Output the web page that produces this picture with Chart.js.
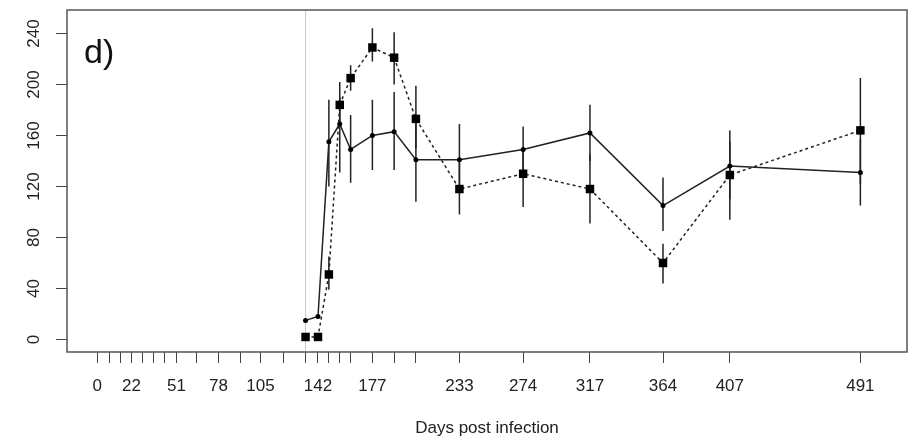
<!DOCTYPE html>
<html>
<head>
<meta charset="utf-8">
<script src="https://cdn.jsdelivr.net/npm/chart.js@4/dist/chart.umd.min.js"></script>
<style>
  body { margin: 0; background: #fff; }
  #wrap { width: 913px; height: 443px; }
</style>
</head>
<body>
<div id="wrap"><canvas id="chart" width="913" height="443"></canvas></div>
<script>
// sampling days that carry data
const DAYS = [134, 142, 149, 156, 163, 177, 191, 205, 233, 274, 317, 364, 407, 491];
// solid line series (small dots)
const SOLID = [15, 18, 155, 169, 149, 160, 163, 141, 141, 149, 162, 105, 136, 131];
const SOLID_LO = [null, null, 120, 131, 123, 133, 133, 108, 115, 130, 140, 85, 110, 105];
const SOLID_HI = [null, null, 188, 190, 176, 188, 194, 172, 169, 167, 184, 127, 164, 157];
// dashed line series (big squares)
const DASHED = [2, 2, 51, 184, 205, 229, 221, 173, 118, 130, 118, 60, 129, 164];
const DASHED_LO = [null, null, 39, 170, 195, 218, 200, 150, 98, 104, 91, 44, 94, 122];
const DASHED_HI = [null, null, 65, 202, 215, 244, 241, 199, 140, 150, 145, 75, 155, 205];

// axis ticks
const TICK_DAYS = [0, 8, 15, 22, 29, 36, 43, 51, 64, 78, 92, 105, 120, 134, 142, 149, 156, 163, 177, 191, 205, 233, 274, 317, 364, 407, 491];
const LABELED_DAYS = [0, 22, 51, 78, 105, 142, 177, 233, 274, 317, 364, 407, 491];
const Y_TICKS = [0, 20, 40, 60, 80, 100, 120, 140, 160, 180, 200, 220, 240];
const Y_LABELS = [0, 40, 80, 120, 160, 200, 240];
const INFECTION_DAY = 134;
const PANEL = 'd)';

const FONT = 'Liberation Sans, Arial, Helvetica, sans-serif';

function points(ys) {
  return DAYS.map((d, i) => ({ x: d, y: ys[i] }));
}

// error bars as separate vertical segments (null breaks the line)
function bars(lo, hi) {
  const out = [];
  DAYS.forEach((d, i) => {
    if (lo[i] == null) return;
    out.push({ x: d, y: lo[i] }, { x: d, y: hi[i] }, { x: d, y: null });
  });
  return out;
}

const framePlugin = {
  id: 'frame',
  beforeDatasetsDraw(chart) {
    const { ctx, chartArea: a, scales } = chart;
    const x = scales.x.getPixelForValue(INFECTION_DAY);
    ctx.save();
    ctx.strokeStyle = '#c8c8c8';
    ctx.lineWidth = 1;
    ctx.beginPath();
    ctx.moveTo(x, a.top);
    ctx.lineTo(x, a.bottom);
    ctx.stroke();
    ctx.restore();
  },
  afterDraw(chart) {
    const { ctx, chartArea: a } = chart;
    ctx.save();
    ctx.strokeStyle = '#555';
    ctx.lineWidth = 1.5;
    ctx.strokeRect(a.left, a.top, a.right - a.left, a.bottom - a.top);
    ctx.fillStyle = '#111';
    ctx.font = '34px ' + FONT;
    ctx.textBaseline = 'alphabetic';
    ctx.fillText(PANEL, a.left + 17, a.top + 53);
    ctx.restore();
  }
};

new Chart(document.getElementById('chart'), {
  type: 'scatter',
  data: {
    datasets: [
      {
        data: points(DASHED),
        showLine: true,
        borderColor: '#222',
        borderWidth: 1.5,
        borderDash: [3, 3],
        pointStyle: 'rect',
        pointRadius: 6,
        pointBackgroundColor: '#000',
        pointBorderColor: '#000',
        pointBorderWidth: 0
      },
      {
        data: points(SOLID),
        showLine: true,
        borderColor: '#222',
        borderWidth: 1.5,
        pointRadius: 2.5,
        pointBackgroundColor: '#000',
        pointBorderColor: '#000',
        pointBorderWidth: 0
      },
      {
        data: bars(SOLID_LO, SOLID_HI),
        showLine: true,
        spanGaps: false,
        borderColor: '#222',
        borderWidth: 1.5,
        pointRadius: 0
      },
      {
        data: bars(DASHED_LO, DASHED_HI),
        showLine: true,
        spanGaps: false,
        borderColor: '#222',
        borderWidth: 1.5,
        pointRadius: 0
      }
    ]
  },
  options: {
    responsive: false,
    animation: false,
    devicePixelRatio: 1,
    layout: { padding: { left: 0, right: 5, top: 10, bottom: 0 } },
    plugins: { legend: { display: false }, tooltip: { enabled: false } },
    scales: {
      x: {
        type: 'linear',
        min: -19.5,
        max: 521,
        afterBuildTicks: s => { s.ticks = TICK_DAYS.map(v => ({ value: v })); },
        afterFit: s => { s.height = 91; s.paddingLeft = 0; s.paddingRight = 0; },
        grid: { drawOnChartArea: false, drawTicks: true, tickLength: 11, color: '#444' },
        border: { display: false },
        ticks: {
          autoSkip: false,
          maxRotation: 0,
          padding: 13,
          color: '#222',
          font: { family: FONT, size: 17 },
          callback: v => LABELED_DAYS.includes(v) ? String(v) : ''
        },
        title: {
          display: true,
          text: 'Days post infection',
          color: '#222',
          font: { family: FONT, size: 17 },
          padding: { top: 0, bottom: 4 }
        }
      },
      y: {
        min: -9.8,
        max: 258.4,
        afterBuildTicks: s => { s.ticks = Y_TICKS.map(v => ({ value: v })); },
        afterFit: s => { s.width = 67; s.paddingTop = 0; s.paddingBottom = 0; },
        grid: { drawOnChartArea: false, drawTicks: true, tickLength: 11, color: '#444' },
        border: { display: false },
        ticks: {
          minRotation: 90,
          maxRotation: 90,
          crossAlign: 'center',
          padding: 8,
          color: '#222',
          font: { family: FONT, size: 17 },
          callback: v => Y_LABELS.includes(v) ? String(v) : ''
        }
      }
    }
  },
  plugins: [framePlugin]
});
</script>
</body>
</html>
